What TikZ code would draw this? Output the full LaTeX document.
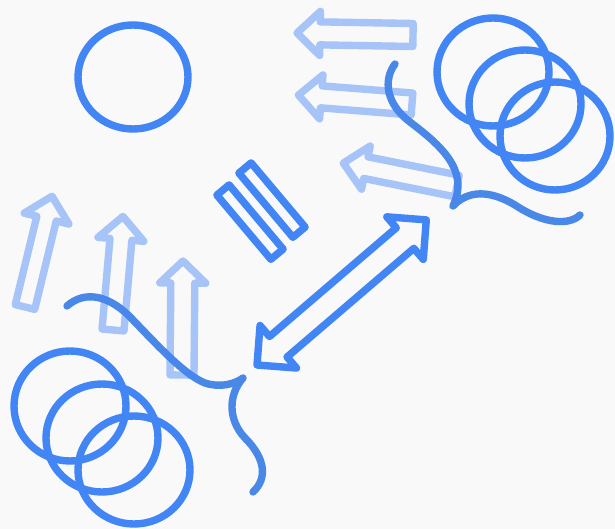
\documentclass[tikz,border=0pt]{standalone}
\definecolor{bg}{HTML}{F9F9FA}
\definecolor{gblue}{HTML}{4285F4}
\definecolor{cblue}{HTML}{4A88E8}
\begin{document}
\begin{tikzpicture}[x=1pt,y=-1pt, line width=7.4pt, line join=round, line cap=round,
  ring/.style={draw=gblue},
  curvy/.style={draw=cblue},
  barbox/.style={draw=gblue},
  bigarrow/.style={draw=gblue},
  lightarrow/.style={draw=gblue, draw opacity=0.45}]
\fill[bg] (0,0) rectangle (615,529);
\useasboundingbox (0,0) rectangle (615,529);
% rings
\draw[ring] (133,77) ellipse [x radius=55, y radius=52];
\draw[ring] (493,72) ellipse [x radius=56, y radius=54];
\draw[ring] (525,104) ellipse [x radius=56, y radius=54];
\draw[ring] (555,136) ellipse [x radius=55, y radius=54];
\draw[ring] (70,406) ellipse [x radius=56, y radius=55];
\draw[ring] (102,438) ellipse [x radius=56, y radius=54];
\draw[ring] (134,470) ellipse [x radius=56, y radius=54];
% curves
\draw[curvy] (395,64) .. controls (383,80) and (386,104) .. (410,122)
  .. controls (440,145) and (470,170) .. (453,206)
  .. controls (468,190) and (490,190) .. (515,205)
  .. controls (545,225) and (570,225) .. (580,215);
\draw[curvy] (67,306) .. controls (85,290) and (110,295) .. (133,320)
  .. controls (160,348) and (185,375) .. (205,383)
  .. controls (220,388) and (235,384) .. (243,378)
  .. controls (228,395) and (228,420) .. (245,438)
  .. controls (265,458) and (268,478) .. (253,492);
% bars
\draw[barbox] (270.9,259.3) -- (283.1,249.1) -- (229.1,184.9) -- (216.9,195.1) -- cycle;
\draw[barbox] (292.9,237.3) -- (305.1,227.1) -- (251.1,162.9) -- (238.9,173.1) -- cycle;
% double arrow
\begin{scope}[shift={(257,365)}, rotate=40.6]
\draw[bigarrow] (0,0) -- (28,28) -- (28,13.5) -- (195,13.5) -- (195,28) -- (223,0)
  -- (195,-28) -- (195,-13.5) -- (28,-13.5) -- (28,-28) -- cycle;
\end{scope}
% light arrows
\begin{scope}[shift={(25,307)}, rotate=76.3]
\draw[lightarrow] (0,-10) -- (91,-10) -- (91,-23) -- (114,0) -- (91,23) -- (91,10) -- (0,10) -- cycle;
\end{scope}
\begin{scope}[shift={(113,330)}, rotate=85]
\draw[lightarrow] (0,-11) -- (91,-11) -- (91,-23) -- (114,0) -- (91,23) -- (91,11) -- (0,11) -- cycle;
\end{scope}
\begin{scope}[shift={(182,375)}, rotate=89.5]
\draw[lightarrow] (0,-12) -- (92,-12) -- (92,-23) -- (114,0) -- (92,23) -- (92,12) -- (0,12) -- cycle;
\end{scope}
\begin{scope}[shift={(413,35)}, rotate=179]
\draw[lightarrow] (0,-11.5) -- (93,-11.5) -- (93,-22) -- (116,0) -- (93,22) -- (93,11.5) -- (0,11.5) -- cycle;
\end{scope}
\begin{scope}[shift={(412,104)}, rotate=175.5]
\draw[lightarrow] (0,-11) -- (91,-11) -- (91,-22) -- (114,0) -- (91,22) -- (91,11) -- (0,11) -- cycle;
\end{scope}
\begin{scope}[shift={(457,186)}, rotate=168.6]
\draw[lightarrow] (0,-11) -- (93,-11) -- (93,-22) -- (116,0) -- (93,22) -- (93,11) -- (0,11) -- cycle;
\end{scope}
\end{tikzpicture}
\end{document}
